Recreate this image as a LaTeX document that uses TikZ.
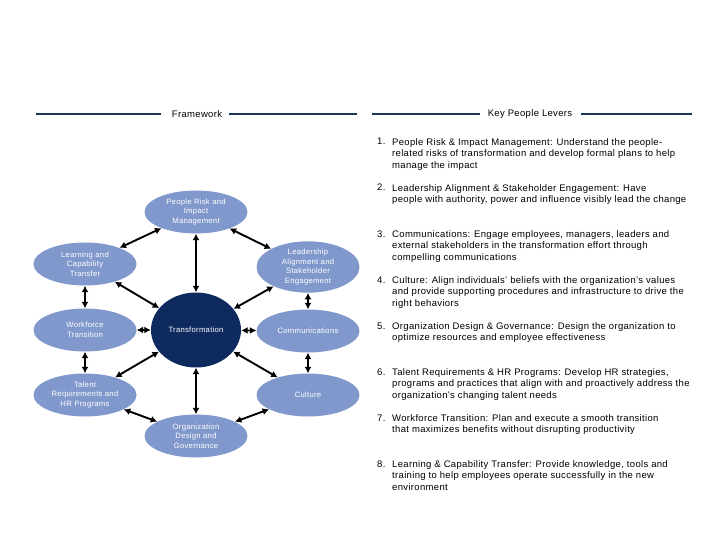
\documentclass[tikz,border=0pt]{standalone}
\usepackage{fontspec}
\setmainfont[LetterSpace=3.5]{Liberation Sans}
\usepackage{xcolor}
\usetikzlibrary{arrows.meta}
\usetikzlibrary{shapes.geometric}

\definecolor{factorblue}{HTML}{8098CB}
\definecolor{hubnavy}{HTML}{0E2A5E}
\definecolor{rulenavy}{HTML}{1B3552}

\begin{document}
\begin{tikzpicture}[
    x=1pt, y=-1pt,
    factor/.style={
        ellipse,
        fill=factorblue,
        text=white,
        inner sep=0pt,
        minimum width=103pt,
        minimum height=43pt,
        align=center,
        font=\fontsize{7.7}{9.7}\selectfont
    },
    hub/.style={
        factor,
        fill=hubnavy,
        minimum width=90pt,
        minimum height=75pt
    },
    link/.style={
        {Latex[length=6.5pt,width=7pt]}-{Latex[length=6.5pt,width=7pt]},
        line width=1.9pt
    },
    heading/.style={
        font=\fontsize{9.5}{11}\selectfont,
        inner sep=0pt
    },
    rule/.style={
        draw=rulenavy,
        line width=2pt
    },
    lever/.style={
        anchor=north west,
        align=left,
        inner sep=0pt,
        font=\fontsize{9.5}{11.7}\selectfont
    },
    num/.style={
        lever,
        anchor=base west
    }
]
\useasboundingbox (0,0) rectangle (720,540);

% Headings
\node[heading] (fw) at (197,114) {Framework};
\node[heading] (kpl) at (530,114) {Key People Levers};
\draw[rule] (36,114) -- (161,114);
\draw[rule] (229,114) -- (357,114);
\draw[rule] (372,114) -- (480,114);
\draw[rule] (581,114) -- (692,114);

% Framework ellipses
\node[hub] (trans) at (196,330) {Transformation};
\node[factor] (risk) at (196,212) {People Risk and\\Impact\\Management};
\node[factor] (lead) at (308,267) {Leadership\\Alignment and\\Stakeholder\\Engagement};
\node[factor] (learn) at (85,264) {Learning and\\Capability\\Transfer};
\node[factor] (work) at (85,330) {Workforce\\Transition};
\node[factor] (comm) at (308,331) {Communications};
\node[factor] (cult) at (308,395) {Culture};
\node[factor] (talent) at (85,395) {Talent\\Requirements and\\HR Programs};
\node[factor] (org) at (196,436) {Organization\\Design and\\Governance};

% Links
\draw[link] (risk) -- (learn);
\draw[link] (risk) -- (lead);
\draw[link] (risk) -- (trans);
\draw[link] (learn) -- (work);
\draw[link] (learn) -- (trans);
\draw[link] (lead) -- (trans);
\draw[link] (lead) -- (comm);
\draw[link] (work) -- (trans);
\draw[link] (trans) -- (comm);
\draw[link] (work) -- (talent);
\draw[link] (talent) -- (trans);
\draw[link] (comm) -- (cult);
\draw[link] (trans) -- (cult);
\draw[link] (trans) -- (org);
\draw[link] (talent) -- (org);
\draw[link] (cult) -- (org);

% Key people levers
\node[num] (n1) at (377,145) {1.};
\node[lever] (k1) at (392,138) {People Risk \& Impact Management: Understand the people-\\related risks of transformation and develop formal plans to help\\manage the impact};
\node[num] (n2) at (377,191) {2.};
\node[lever] (k2) at (392,184) {Leadership Alignment \& Stakeholder Engagement: Have\\people with authority, power and influence visibly lead the change};
\node[num] (n3) at (377,237) {3.};
\node[lever] (k3) at (392,230) {Communications: Engage employees, managers, leaders and\\external stakeholders in the transformation effort through\\compelling communications};
\node[num] (n4) at (377,283) {4.};
\node[lever] (k4) at (392,276) {Culture: Align individuals' beliefs with the organization's values\\and provide supporting procedures and infrastructure to drive the\\right behaviors};
\node[num] (n5) at (377,329) {5.};
\node[lever] (k5) at (392,322) {Organization Design \& Governance: Design the organization to\\optimize resources and employee effectiveness};
\node[num] (n6) at (377,375) {6.};
\node[lever] (k6) at (392,368) {Talent Requirements \& HR Programs: Develop HR strategies,\\programs and practices that align with and proactively address the\\organization's changing talent needs};
\node[num] (n7) at (377,421) {7.};
\node[lever] (k7) at (392,414) {Workforce Transition: Plan and execute a smooth transition\\that maximizes benefits without disrupting productivity};
\node[num] (n8) at (377,467) {8.};
\node[lever] (k8) at (392,460) {Learning \& Capability Transfer: Provide knowledge, tools and\\training to help employees operate successfully in the new\\environment};

\end{tikzpicture}
\end{document}
